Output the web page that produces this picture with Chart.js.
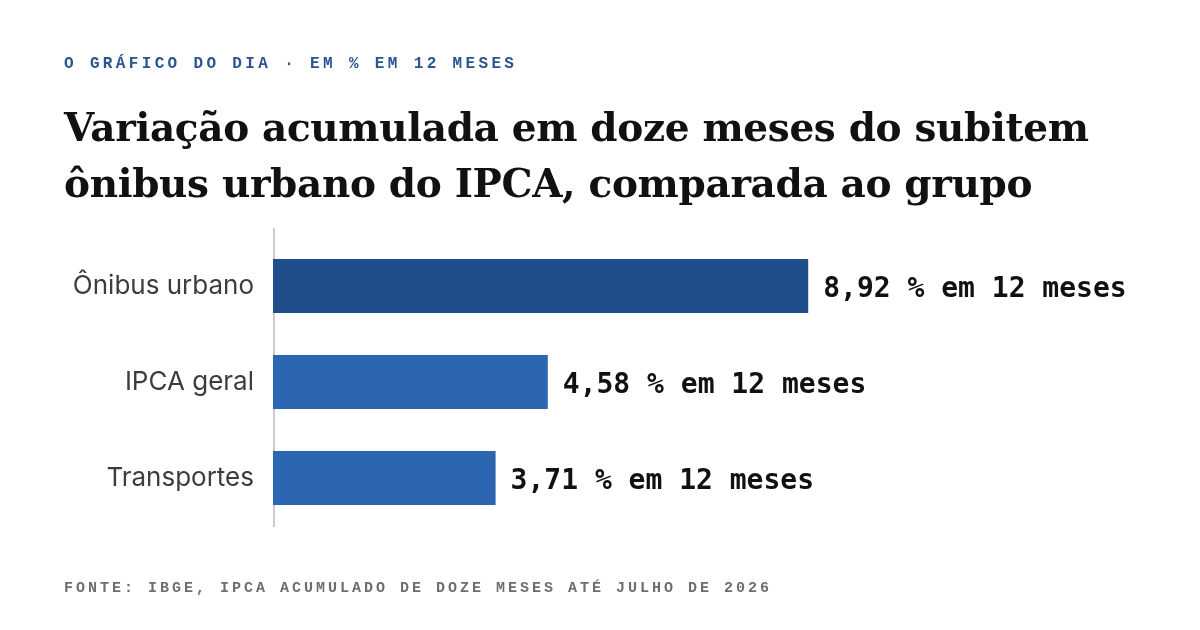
<!DOCTYPE html>
<html lang="pt-BR">
<head>
<meta charset="utf-8">
<script src="https://cdn.jsdelivr.net/npm/chart.js@4/dist/chart.umd.min.js"></script>
<style>
    html, body { margin: 0; padding: 0; background: #fff; }
    #wrap { position: relative; width: 1200px; height: 630px; overflow: hidden; background: #fff; }
    #chart { position: absolute; left: 0; top: 0; }
    .kicker {
        position: absolute; left: 64px; top: 56px;
        font: bold 16px/16px "Liberation Mono", monospace;
        letter-spacing: 3.35px; color: #2a5591; white-space: nowrap;
    }
    .title {
        position: absolute; left: 64px; top: 99px;
        font: bold 39px/56px "DejaVu Serif", serif;
        letter-spacing: -0.35px;
        color: #111; white-space: nowrap;
    }
    .source {
        position: absolute; left: 64px; top: 581px;
        font: bold 15px/15px "Liberation Mono", monospace;
        letter-spacing: 3px; color: #6e6e6e; white-space: nowrap;
    }
</style>
</head>
<body>
<div id="wrap">
    <canvas id="chart" width="1200" height="630"></canvas>
    <div class="kicker">O GRÁFICO DO DIA · EM % EM 12 MESES</div>
    <div class="title">Variação acumulada em doze meses do subitem<br>ônibus urbano do IPCA, comparada ao grupo</div>
    <div class="source">FONTE: IBGE, IPCA ACUMULADO DE DOZE MESES ATÉ JULHO DE 2026</div>
</div>
<script>
const categories = ['Ônibus urbano', 'IPCA geral', 'Transportes'];
const values = [8.92, 4.58, 3.71];
const valueSuffix = ' % em 12 meses';

// linha vertical do eixo, um pouco mais alta que a área das barras
const axisLine = {
    id: 'axisLine',
    beforeDatasetsDraw(chart) {
        const ctx = chart.ctx;
        const area = chart.chartArea;
        ctx.save();
        ctx.strokeStyle = '#cccccc';
        ctx.lineWidth = 2;
        ctx.beginPath();
        ctx.moveTo(area.left + 1, area.top - 10);
        ctx.lineTo(area.left + 1, area.bottom + 1);
        ctx.stroke();
        ctx.restore();
    }
};

// rótulos de valor ao lado de cada barra
const valueLabels = {
    id: 'valueLabels',
    afterDatasetsDraw(chart) {
        const ctx = chart.ctx;
        const meta = chart.getDatasetMeta(0);
        ctx.save();
        ctx.font = 'bold 28px "DejaVu Sans Mono", monospace';
        ctx.fillStyle = '#111111';
        ctx.textAlign = 'left';
        ctx.textBaseline = 'middle';
        meta.data.forEach(function (bar, i) {
            const text = values[i].toFixed(2).replace('.', ',') + valueSuffix;
            ctx.fillText(text, bar.x + 15, bar.y + 4);
        });
        ctx.restore();
    }
};

const ctx = document.getElementById('chart').getContext('2d');
new Chart(ctx, {
    type: 'bar',
    data: {
        labels: categories,
        datasets: [{
            data: values,
            backgroundColor: ['#204e8a', '#2d66b0', '#2d66b0'],
            borderWidth: 0,
            barPercentage: 0.5625,
            categoryPercentage: 1
        }]
    },
    options: {
        indexAxis: 'y',
        responsive: false,
        animation: false,
        layout: { padding: { left: 0, right: 27, top: 238, bottom: 104 } },
        plugins: {
            legend: { display: false },
            tooltip: { enabled: false }
        },
        scales: {
            x: {
                display: false,
                min: 0,
                max: 15
            },
            y: {
                afterFit: function (axis) { axis.width = 273; },
                grid: { display: false, drawTicks: false },
                border: { display: false },
                ticks: {
                    padding: 19,
                    color: '#3d3d3d',
                    font: { family: 'Inter', size: 26 }
                }
            }
        }
    },
    plugins: [axisLine, valueLabels]
});
</script>
</body>
</html>
